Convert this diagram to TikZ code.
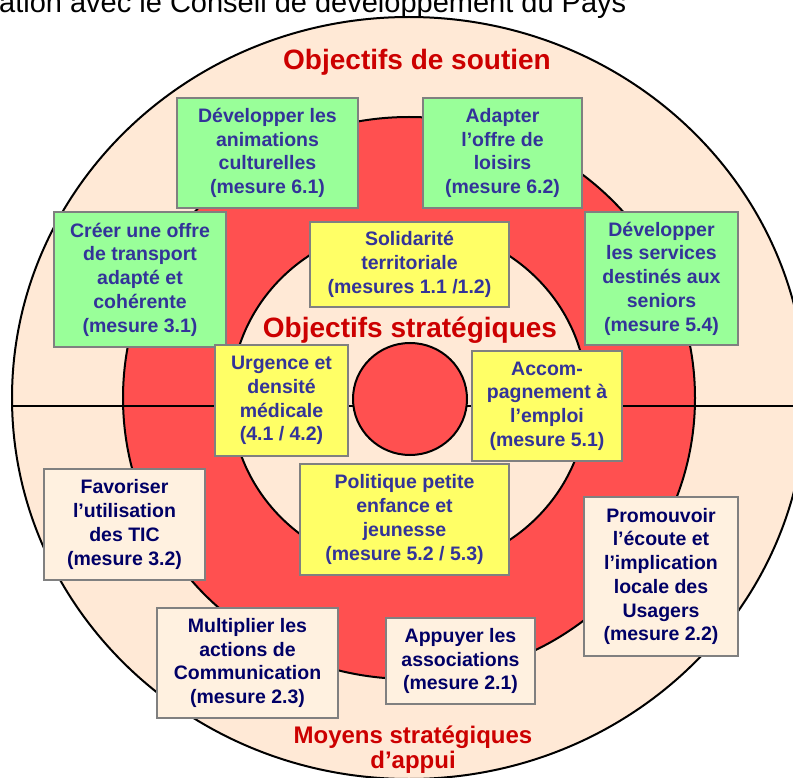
\documentclass[tikz,border=0pt]{standalone}
\usepackage{fontspec}
\setmainfont{Liberation Sans}
\definecolor{ringpeach}{RGB}{255,233,214}
\definecolor{ringred}{RGB}{255,80,80}
\definecolor{boxgreen}{RGB}{153,255,153}
\definecolor{boxyellow}{RGB}{255,255,102}
\definecolor{boxpeach}{RGB}{255,241,224}
\definecolor{boxline}{RGB}{128,128,128}
\definecolor{textblue}{RGB}{51,51,153}
\definecolor{textnavy}{RGB}{0,0,102}
\definecolor{titlered}{RGB}{204,0,0}
\begin{document}
\begin{tikzpicture}[x=1pt, y=-1pt,
    mesure/.style={draw=boxline, line width=2.5pt, align=center, inner sep=0pt,
      font=\fontsize{19.5}{23.7}\selectfont\bfseries},
    greenbox/.style={mesure, fill=boxgreen, text=textblue},
    yellowbox/.style={mesure, fill=boxyellow, text=textblue},
    peachbox/.style={mesure, fill=boxpeach, text=textnavy},
    ringtitle/.style={text=titlered, align=center, font=\fontsize{28}{32}\selectfont\bfseries}]
    \useasboundingbox (0,0) rectangle (793,778);
    \clip (0,0) rectangle (793,778);

    % Rings
    \draw[line width=2pt, fill=ringpeach] (409,398) ellipse [x radius=397pt, y radius=381pt];
    \draw[line width=2pt, fill=ringred] (409,398) ellipse [x radius=286pt, y radius=281pt];
    \draw[line width=2pt, fill=ringpeach] (409,398) ellipse [x radius=178pt, y radius=172pt];
    \draw[line width=2pt] (12,406) -- (806,406);
    \draw[line width=2pt, fill=ringred] (410,399) ellipse [x radius=57pt, y radius=56pt];

    % Header text, cut by the page edge
    \node (entete) [anchor=base west, inner sep=0pt, font=\fontsize{29}{33}\selectfont] at (-1,13) {ation avec le Conseil de développement du Pays};

    % Titles
    \node (soutien) [ringtitle] at (417,62) {Objectifs de soutien};
    \node (strateg) [ringtitle] at (410,330) {Objectifs stratégiques};
    \node (moyens) [ringtitle, font=\fontsize{24}{25}\selectfont\bfseries] at (413,750) {Moyens stratégiques\\d’appui};

    % Objectifs de soutien
    \node (dev61) [greenbox, minimum width=181pt, minimum height=110pt] at (267.5,153) {Développer les\\animations\\culturelles\\(mesure 6.1)};
    \node (adapt62) [greenbox, minimum width=159pt, minimum height=110pt] at (502.5,153) {Adapter\\l’offre de\\loisirs\\(mesure 6.2)};
    \node (transp31) [greenbox, minimum width=172pt, minimum height=135pt] at (140,279.5) {Créer une offre\\de transport\\adapté et\\cohérente\\(mesure 3.1)};
    \node (senior54) [greenbox, minimum width=153pt, minimum height=133pt] at (661.5,278.5) {Développer\\les services\\destinés aux\\seniors\\(mesure 5.4)};

    % Objectifs strategiques
    \node (solid) [yellowbox, minimum width=199pt, minimum height=85pt] at (409.5,264.5) {Solidarité\\territoriale\\(mesures 1.1 /1.2)};
    \node (urgence) [yellowbox, minimum width=133pt, minimum height=111pt] at (281.5,400.5) {Urgence et\\densité\\médicale\\(4.1 / 4.2)};
    \node (emploi51) [yellowbox, minimum width=150pt, minimum height=110pt] at (547,406) {Accom-\\pagnement à\\l’emploi\\(mesure 5.1)};
    \node (enfance) [yellowbox, minimum width=209pt, minimum height=111pt] at (404.5,519.5) {Politique petite\\enfance et\\jeunesse\\(mesure 5.2 / 5.3)};

    % Moyens strategiques d'appui
    \node (tic32) [peachbox, minimum width=161pt, minimum height=111pt] at (124.5,524.5) {Favoriser\\l’utilisation\\des TIC\\(mesure 3.2)};
    \node (comm23) [peachbox, minimum width=181pt, minimum height=110pt] at (247.5,663) {Multiplier les\\actions de\\Communication\\(mesure 2.3)};
    \node (assoc21) [peachbox, minimum width=149pt, minimum height=86pt] at (460.5,661) {Appuyer les\\associations\\(mesure 2.1)};
    \node (usager22) [peachbox, minimum width=154pt, minimum height=159pt] at (661,576.5) {Promouvoir\\l’écoute et\\l’implication\\locale des\\Usagers\\(mesure 2.2)};
\end{tikzpicture}
\end{document}
